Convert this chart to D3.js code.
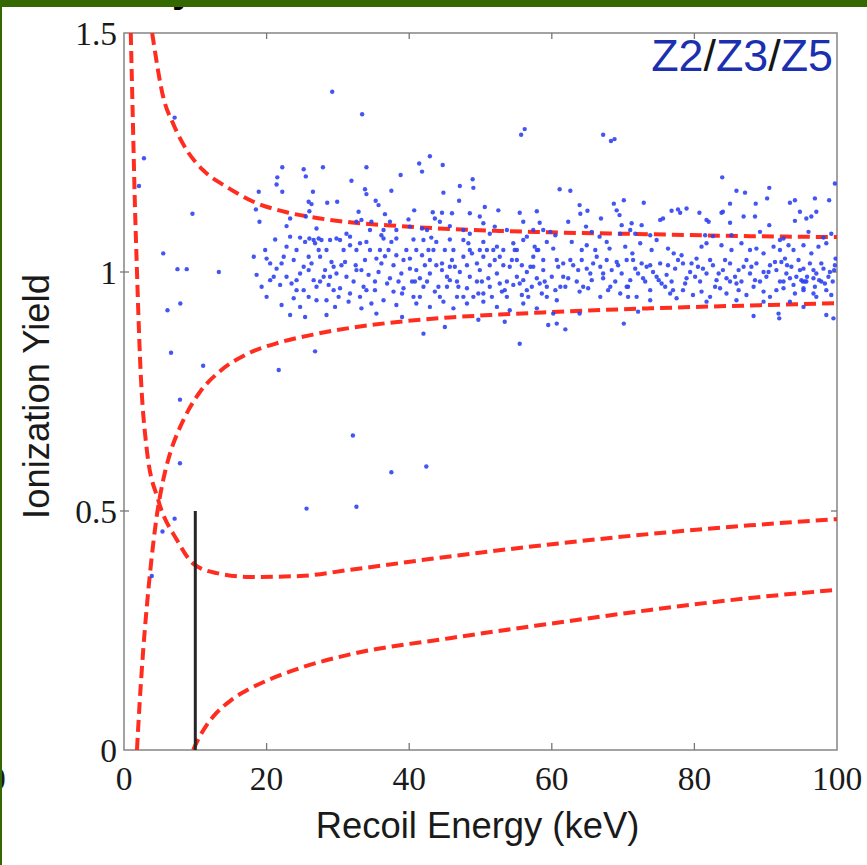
<!DOCTYPE html>
<html>
  <head>
    <meta charset="utf-8">
    <title>Ionization yield vs recoil energy</title>
    <script src="https://d3js.org/d3.v7.min.js"></script>
    <style>
      body { margin: 0; background: #fff; }
      svg { display: block; }
      .num { font-family: "Liberation Serif", "Times New Roman", serif; font-size: 33.5px; fill: #1a1a1a; }
      .label { font-family: "Liberation Sans", Arial, sans-serif; font-size: 36.4px; fill: #1a1a1a; }
      .tag { font-family: "Liberation Sans", Arial, sans-serif; font-size: 44.8px; }
      .band { fill: none; stroke: #ff2d1f; stroke-width: 4; stroke-dasharray: 12 6; }
    </style>
  </head>
  <body>
    <svg id="chart" width="867" height="865"></svg>

    <script>
      // axis ticks
      xTicks = [0, 20, 40, 60, 80, 100];
      yTicks = [0, 0.5, 1, 1.5];
      yTickLabels = ["0", "0.5", "1", "1.5"];

      // dashed curves, [recoil energy keV, ionization yield]
      erUpper = [[3.95, 1.5], [5.5, 1.366], [6.9, 1.31], [8.8, 1.255], [11.1, 1.213], [14.4, 1.178],
        [18, 1.148], [22.8, 1.125], [27.5, 1.112], [31.7, 1.104], [38.7, 1.096], [45.7, 1.09],
        [52.7, 1.086], [59.7, 1.083], [73.8, 1.079], [87.8, 1.075], [100, 1.073]];
      erLower = [[1.82, 0], [2.2, 0.1], [2.7, 0.21], [3.2, 0.3], [3.65, 0.37], [4.6, 0.49],
        [5.5, 0.565], [6.45, 0.62], [7.85, 0.675], [9, 0.71], [10.7, 0.75], [13.5, 0.793],
        [17.2, 0.828], [21.9, 0.853], [26.5, 0.869], [31.7, 0.883], [38.7, 0.896], [45.7, 0.905],
        [52.7, 0.911], [59.7, 0.916], [73.8, 0.924], [87.8, 0.93], [100, 0.935]];
      nrUpper = [[0.95, 1.5], [1.27, 1.3], [1.5, 1.157], [1.78, 1.02], [2.24, 0.822], [3.2, 0.628],
        [4.8, 0.523], [7.4, 0.44], [9.7, 0.39], [13, 0.37], [17.7, 0.362], [24.7, 0.364],
        [31.7, 0.377], [45.7, 0.405], [59.7, 0.43], [73.8, 0.452], [87.8, 0.47], [100, 0.483]];
      nrLower = [[9.7, 0], [10.5, 0.025], [11.5, 0.05], [13, 0.078], [15, 0.104], [17.5, 0.127],
        [20, 0.145], [25, 0.173], [31.7, 0.2], [45.7, 0.234], [59.7, 0.264], [73.8, 0.293],
        [87.8, 0.318], [100, 0.335]];

      // analysis threshold
      threshold = [[10, 0], [10, 0.5]];

      // events, [recoil energy keV, ionization yield]
      events = [
        [2.8, 1.238], [2.1, 1.18], [7.1, 1.323], [9.6, 1.122], [5.5, 1.039], [7.5, 1.006], [8.8, 1.006],
        [13.3, 1.0], [6.1, 0.92], [7.9, 0.934], [6.6, 0.831], [11.1, 0.804], [21.7, 0.795], [26.8, 0.834],
        [7.85, 0.733], [32.1, 0.658], [37.5, 0.581], [42.4, 0.593], [7.85, 0.6], [25.6, 0.505],
        [32.6, 0.509], [7.1, 0.484], [5.4, 0.457], [3.9, 0.364],
        [29.2, 1.377], [33.4, 1.33], [55.7, 1.287], [56.2, 1.299], [67.2, 1.287], [68.3, 1.274], [68.8, 1.278],
        [42.9, 1.242], [41.4, 1.227], [44.7, 1.224], [41.8, 1.21], [22.2, 1.219], [25.2, 1.215], [27.9, 1.219],
        [34.0, 1.219], [38.8, 1.203], [21.5, 1.198], [25.5, 1.2], [31.9, 1.191], [48.9, 1.194], [49.0, 1.176],
        [47.1, 1.18], [21.4, 1.183], [18.9, 1.168], [22.2, 1.168], [26.5, 1.168], [33.8, 1.173], [34.0, 1.163],
        [37.5, 1.17], [44.8, 1.166], [25.9, 1.147], [26.3, 1.142], [28.5, 1.145], [29.9, 1.147], [35.3, 1.149],
        [35.7, 1.14], [47.0, 1.149], [50.6, 1.136], [52.5, 1.129], [55.5, 1.124], [57.9, 1.127], [18.5, 1.131],
        [26.0, 1.127], [32.9, 1.126], [36.6, 1.121], [40.7, 1.129], [43.3, 1.125], [44.6, 1.124], [46.0, 1.123],
        [48.5, 1.123], [49.9, 1.116], [19.0, 1.105], [23.3, 1.112], [25.5, 1.116], [32.6, 1.105], [33.3, 1.109],
        [34.7, 1.105], [37.3, 1.105], [39.9, 1.11], [43.6, 1.112], [44.3, 1.105], [45.7, 1.096], [50.4, 1.102],
        [52.0, 1.095], [53.7, 1.088], [56.0, 1.105], [58.3, 1.103], [58.8, 1.088], [47.6, 1.088], [22.8, 1.096],
        [27.0, 1.091], [36.4, 1.088], [41.8, 1.091], [40.1, 1.095],
        [21.2, 1.068], [24.7, 1.072], [26.0, 1.07], [26.6, 1.067], [27.3, 1.07], [27.7, 1.067], [29.8, 1.07],
        [30.3, 1.067], [31.7, 1.056], [34.0, 1.063], [36.1, 1.077], [36.4, 1.07], [38.2, 1.07], [40.6, 1.068],
        [42.0, 1.067], [43.1, 1.072], [43.8, 1.063], [45.7, 1.068], [47.6, 1.067], [48.3, 1.06], [50.4, 1.063],
        [52.3, 1.053], [54.6, 1.06], [56.0, 1.067], [57.6, 1.053], [59.3, 1.063], [19.8, 1.046], [22.8, 1.053],
        [28.4, 1.046],
        [18.2, 1.032], [20.0, 1.028], [22.4, 1.032], [23.8, 1.025], [25.9, 1.032], [26.3, 1.018], [27.5, 1.032],
        [29.1, 1.021], [31.0, 1.021], [32.5, 1.014], [33.8, 1.025], [35.4, 1.028], [36.6, 1.033], [38.2, 1.035],
        [40.1, 1.028], [41.8, 1.035], [42.9, 1.025], [44.6, 1.018], [46.0, 1.025], [47.6, 1.032], [49.5, 1.018],
        [50.4, 1.032], [52.0, 1.025], [53.2, 1.014], [55.1, 1.025], [55.8, 1.014], [57.4, 1.032], [58.8, 1.025],
        [18.6, 0.994], [21.4, 1.007], [22.8, 0.99], [24.7, 0.997], [25.9, 1.004], [26.6, 0.983], [28.2, 1.004],
        [29.8, 0.997], [31.2, 0.99], [32.6, 1.004], [34.3, 0.994], [35.7, 1.0], [37.3, 0.987], [38.9, 0.997],
        [40.1, 1.007], [41.5, 0.987], [42.9, 0.997], [44.6, 1.004], [45.7, 0.983], [47.1, 1.0], [48.5, 0.99],
        [49.9, 1.004], [51.1, 0.987], [52.3, 0.997], [53.7, 0.98], [55.1, 0.99], [56.5, 1.0], [57.9, 0.987],
        [58.8, 1.004],
        [19.3, 0.969], [21.9, 0.973], [23.5, 0.976], [25.2, 0.962], [27.0, 0.969], [28.7, 0.973], [30.3, 0.966],
        [31.7, 0.955], [33.6, 0.969], [35.2, 0.962], [36.9, 0.976], [37.8, 0.959], [39.2, 0.966], [40.6, 0.948],
        [42.0, 0.969], [43.6, 0.959], [45.3, 0.969], [46.7, 0.948], [48.1, 0.966], [49.7, 0.955], [51.3, 0.969],
        [53.0, 0.959], [54.6, 0.973], [55.8, 0.952], [57.2, 0.969], [58.6, 0.955],
        [22.1, 0.931], [24.7, 0.927], [28.4, 0.941], [29.6, 0.927], [31.5, 0.938], [33.3, 0.924], [34.7, 0.934],
        [35.4, 0.913], [38.2, 0.931], [41.0, 0.934], [42.9, 0.927], [44.8, 0.938], [46.2, 0.924], [48.1, 0.934],
        [50.4, 0.938], [52.3, 0.927], [54.1, 0.92], [56.0, 0.934], [57.9, 0.924],
        [23.3, 0.91], [25.4, 0.906], [28.4, 0.91], [39.0, 0.906], [42.0, 0.871], [45.0, 0.885], [49.7, 0.9],
        [53.4, 0.896], [55.5, 0.85], [59.5, 0.889],
        [20.5, 1.018], [24.2, 1.046], [25.2, 1.011], [28.0, 0.99], [29.4, 0.962], [30.8, 1.046], [32.2, 0.98],
        [33.1, 0.948], [34.5, 1.046], [36.1, 1.018], [37.1, 1.046], [38.5, 0.98], [39.6, 1.046], [40.8, 0.98],
        [42.2, 1.014], [43.4, 1.046], [44.1, 0.969], [45.0, 1.046], [46.4, 1.011], [46.9, 0.969], [48.8, 1.039],
        [49.0, 0.948], [50.2, 0.98], [50.9, 1.046], [51.6, 0.948], [52.7, 1.032], [53.4, 0.962], [54.1, 1.011],
        [54.8, 1.046], [55.5, 0.976], [56.7, 0.948], [57.0, 1.011], [58.1, 1.046], [58.3, 0.976], [59.3, 0.948],
        [20.0, 0.948], [21.0, 0.99], [23.8, 0.945], [24.2, 0.983], [27.0, 0.941], [27.3, 1.046], [28.9, 0.99],
        [30.5, 1.014], [31.7, 1.074], [33.1, 1.06], [34.5, 1.088], [38.2, 1.088], [41.0, 1.046], [42.5, 1.088],
        [46.2, 1.046], [48.5, 1.08], [49.9, 1.046], [51.3, 1.08], [53.2, 1.046], [56.5, 1.074], [57.4, 1.088],
        [25.4, 1.063], [26.8, 1.06], [28.9, 1.067], [32.6, 1.046], [35.9, 1.046], [37.8, 1.014], [39.2, 1.025],
        [41.0, 1.004], [42.5, 0.98], [43.8, 1.014], [45.3, 0.99], [46.7, 0.98], [48.1, 1.014], [49.5, 0.98],
        [51.3, 1.014], [52.7, 0.976], [54.4, 1.025], [56.0, 0.983], [57.4, 1.011], [59.0, 0.98], [20.5, 0.983],
        [22.1, 1.018], [23.3, 1.074], [24.2, 0.962], [25.9, 0.948], [27.5, 0.98], [29.4, 1.011], [30.1, 0.948],
        [31.2, 1.08], [33.3, 1.004], [34.0, 0.962], [35.2, 0.98], [36.4, 0.941], [37.5, 1.063], [39.0, 0.955],
        [40.4, 0.98], [41.5, 0.948], [42.7, 1.046], [44.3, 0.948], [45.7, 1.011], [47.6, 0.948], [48.5, 1.046],
        [50.4, 0.955], [51.8, 1.046], [53.7, 0.948], [55.1, 1.046], [56.5, 0.962], [57.9, 1.046], [59.3, 0.969],
        [83.9, 1.198], [61.1, 1.173], [62.6, 1.17], [90.5, 1.176], [99.7, 1.185], [85.9, 1.17], [87.1, 1.166],
        [85.0, 1.143], [88.6, 1.143], [90.2, 1.154], [93.4, 1.145], [94.1, 1.15], [96.9, 1.154], [98.9, 1.15],
        [63.9, 1.14], [65.0, 1.128], [64.0, 1.122], [68.7, 1.143], [70.1, 1.15], [69.1, 1.129], [69.5, 1.119],
        [72.9, 1.145], [76.8, 1.128], [77.7, 1.131], [78.0, 1.124], [78.9, 1.133], [80.7, 1.124], [83.8, 1.124],
        [84.0, 1.126], [86.9, 1.116], [88.5, 1.116], [94.8, 1.126], [97.1, 1.126], [66.9, 1.112], [75.2, 1.109],
        [75.6, 1.112], [82.0, 1.105], [81.7, 1.109], [85.0, 1.103], [90.5, 1.098], [94.1, 1.107], [95.7, 1.112],
        [96.4, 1.116], [62.3, 1.105], [64.8, 1.095], [69.8, 1.098], [71.2, 1.102], [72.6, 1.098], [71.0, 1.088],
        [59.8, 1.084], [60.5, 1.077], [65.6, 1.084], [66.7, 1.074], [69.6, 1.08], [71.7, 1.08], [73.8, 1.077],
        [81.5, 1.077], [82.6, 1.075], [85.2, 1.077], [89.2, 1.084], [92.5, 1.07], [92.0, 1.067], [96.0, 1.084],
        [98.1, 1.072], [99.2, 1.08],
        [60.2, 1.049], [62.8, 1.063], [64.2, 1.046], [64.9, 1.056], [66.1, 1.046], [67.7, 1.063], [68.1, 1.049],
        [70.3, 1.053], [71.3, 1.039], [72.4, 1.06], [74.7, 1.067], [74.0, 1.046], [76.3, 1.049], [77.1, 1.039],
        [78.2, 1.035], [80.3, 1.028], [81.0, 1.053], [81.7, 1.06], [83.8, 1.056], [85.2, 1.046], [86.6, 1.06],
        [87.8, 1.046], [88.7, 1.049], [89.7, 1.039], [91.1, 1.053], [92.0, 1.046], [93.2, 1.056], [93.9, 1.046],
        [95.3, 1.056], [96.4, 1.039], [97.4, 1.053], [98.5, 1.06], [99.8, 1.028],
        [60.7, 1.025], [61.6, 1.018], [63.0, 1.014], [64.2, 1.025], [64.9, 1.007], [65.8, 1.018], [66.8, 1.011],
        [67.7, 1.025], [68.4, 1.004], [69.3, 1.014], [70.5, 1.025], [71.7, 1.007], [72.6, 1.018], [73.3, 1.011],
        [74.2, 1.0], [75.2, 1.018], [76.1, 0.994], [77.3, 1.007], [78.4, 1.018], [79.4, 1.0], [80.5, 1.011],
        [81.7, 0.997], [82.6, 1.014], [84.0, 1.004], [85.0, 1.018], [85.7, 0.99], [86.9, 1.011], [87.8, 0.997],
        [88.7, 1.018], [89.7, 1.0], [90.6, 1.014], [91.5, 1.004], [92.2, 1.021], [92.9, 0.997], [93.6, 1.011],
        [94.3, 0.99], [95.3, 1.007], [96.2, 1.018], [97.1, 0.997], [98.1, 1.007], [99.0, 1.0], [99.7, 1.014],
        [60.0, 0.99], [62.3, 0.987], [63.5, 0.98], [65.6, 0.983], [67.2, 0.987], [68.9, 0.98], [71.0, 0.983],
        [72.8, 0.987], [75.0, 0.983], [76.8, 0.98], [78.9, 0.987], [80.8, 0.98], [83.1, 0.983], [84.5, 0.987],
        [86.6, 0.98], [88.5, 0.983], [90.1, 0.99], [92.0, 0.98], [93.4, 0.987], [95.0, 0.983], [95.7, 0.98],
        [96.7, 0.987], [97.8, 0.98],
        [60.5, 0.962], [61.9, 0.969], [63.9, 0.959], [65.1, 0.966], [66.8, 0.948], [67.9, 0.962], [69.6, 0.955],
        [70.7, 0.969], [71.9, 0.948], [73.8, 0.962], [75.9, 0.969], [76.6, 0.955], [78.4, 0.962], [79.8, 0.952],
        [81.0, 0.959], [82.2, 0.948], [83.6, 0.966], [84.5, 0.955], [86.2, 0.962], [87.3, 0.952], [88.3, 0.969],
        [89.7, 0.959], [90.6, 0.948], [92.5, 0.966], [94.1, 0.955], [95.3, 0.962], [95.5, 0.98], [97.1, 0.948],
        [98.5, 0.962], [99.2, 0.952], [60.7, 0.941], [70.7, 0.948], [73.8, 0.941], [77.5, 0.945], [81.7, 0.938],
        [85.9, 0.941], [93.4, 0.938],
        [60.2, 0.913], [63.9, 0.913], [72.1, 0.917], [89.7, 0.938], [88.3, 0.908], [91.8, 0.913], [91.9, 0.903],
        [98.5, 0.91], [99.5, 0.903], [60.7, 0.892], [61.9, 0.88], [70.1, 0.892], [95.3, 0.927],
        [92.7, 1.028], [93.0, 1.014], [94.6, 1.025], [94.8, 1.004], [95.2, 0.98], [95.8, 0.99], [96.7, 1.004],
        [96.9, 0.969], [97.5, 0.983], [97.8, 1.018], [98.3, 0.976], [98.8, 0.99], [99.4, 0.98], [99.6, 1.004],
        [96.7, 0.955], [95.3, 0.966], [93.9, 0.973], [92.5, 0.98], [91.5, 0.962], [91.3, 1.021], [90.4, 1.0],
        [89.2, 0.98], [88.0, 1.011], [87.3, 1.025], [86.2, 1.004], [85.9, 0.976], [85.0, 0.98], [84.3, 1.025],
        [83.4, 0.997], [82.9, 0.969], [82.2, 1.025], [81.2, 1.007], [80.1, 0.99], [79.6, 1.018], [78.7, 0.976],
        [77.7, 1.025], [77.0, 0.962], [76.3, 1.014], [75.4, 0.976], [74.7, 0.99], [73.8, 1.014], [73.1, 0.98],
        [72.1, 0.997], [71.4, 1.025], [70.5, 0.969], [69.8, 0.997], [69.1, 1.021], [68.2, 0.969], [67.2, 0.997],
        [66.3, 1.032], [65.4, 0.997], [64.4, 0.969], [63.7, 1.004], [62.6, 1.025], [61.6, 0.99], [60.9, 1.011],
        [61.2, 0.969]
      ];

      // page elements
      svg = d3.select("#chart");
      x = d3.scaleLinear().domain([0, 100]).range([124, 837]);
      y = d3.scaleLinear().domain([0, 1.5]).range([750, 33]);

      // white page with the slide's green edges
      svg.append("rect").attr("width", 867).attr("height", 865).attr("fill", "#fff");
      svg.append("text")
        .attr("x", 172).attr("y", 2)
        .style("font", "bold 40px 'Liberation Sans', sans-serif")
        .text("y");
      svg.append("text")
        .attr("class", "num")
        .attr("x", -11).attr("y", 790)
        .text("0");
      svg.append("rect").attr("width", 867).attr("height", 7).attr("fill", "#346800");
      svg.append("rect").attr("width", 2).attr("height", 865).attr("fill", "#346800");

      svg.append("clipPath")
        .attr("id", "plotClip")
        .append("rect")
        .attr("x", x(0)).attr("y", y(1.5))
        .attr("width", x(100) - x(0)).attr("height", y(0) - y(1.5));

      // frame
      svg.append("rect")
        .attr("x", x(0)).attr("y", y(1.5))
        .attr("width", x(100) - x(0)).attr("height", y(0) - y(1.5))
        .attr("fill", "none")
        .attr("stroke", "#8c8c8c")
        .attr("stroke-width", 1.6);

      // ticks
      ticks = svg.append("g").attr("stroke", "#777").attr("stroke-width", 1.3);
      ticks.selectAll(".xb")
        .data(xTicks.slice(1, -1))
        .enter().append("line")
        .attr("x1", d => x(d)).attr("x2", d => x(d))
        .attr("y1", y(0)).attr("y2", y(0) - 7);
      ticks.selectAll(".xt")
        .data(xTicks.slice(1, -1))
        .enter().append("line")
        .attr("x1", d => x(d)).attr("x2", d => x(d))
        .attr("y1", y(1.5)).attr("y2", y(1.5) + 6);
      ticks.selectAll(".yl")
        .data(yTicks.slice(1, -1))
        .enter().append("line")
        .attr("x1", x(0) - 4).attr("x2", x(0) + 5)
        .attr("y1", d => y(d)).attr("y2", d => y(d));
      ticks.selectAll(".yr")
        .data(yTicks.slice(1, -1))
        .enter().append("line")
        .attr("x1", x(100)).attr("x2", x(100) - 6)
        .attr("y1", d => y(d)).attr("y2", d => y(d));

      // tick labels
      svg.selectAll(".xlab")
        .data(xTicks)
        .enter().append("text")
        .attr("class", "num")
        .attr("x", d => x(d))
        .attr("y", y(0) + 40)
        .attr("text-anchor", "middle")
        .text(d => d);
      svg.selectAll(".ylab")
        .data(yTicks)
        .enter().append("text")
        .attr("class", "num")
        .attr("x", x(0) - 7)
        .attr("y", d => y(d) + 12)
        .attr("text-anchor", "end")
        .text((d, i) => yTickLabels[i]);

      // axis titles
      svg.append("text")
        .attr("class", "label")
        .attr("x", (x(0) + x(100)) / 2 - 3)
        .attr("y", 838)
        .attr("text-anchor", "middle")
        .text("Recoil Energy (keV)");
      svg.append("text")
        .attr("class", "label")
        .attr("transform", "translate(49," + ((y(0) + y(1.5)) / 2 + 5) + ") rotate(-90)")
        .attr("text-anchor", "middle")
        .text("Ionization Yield");

      // detector tag
      tag = svg.append("text")
        .attr("class", "tag")
        .attr("x", 833).attr("y", 71)
        .attr("text-anchor", "end");
      ["Z2", "/", "Z3", "/", "Z5"].forEach(function(s) {
        tag.append("tspan")
          .attr("fill", s == "/" ? "#151515" : "#1a30b0")
          .text(s);
      });

      // curves
      line = d3.line()
        .x(d => x(d[0]))
        .y(d => y(d[1]))
        .curve(d3.curveMonotoneX);
      plot = svg.append("g").attr("clip-path", "url(#plotClip)");
      plot.selectAll(".band")
        .data([erUpper, erLower, nrUpper, nrLower])
        .enter().append("path")
        .attr("class", "band")
        .attr("d", line);
      plot.append("path")
        .datum(threshold)
        .attr("d", d3.line().x(d => x(d[0])).y(d => y(d[1])))
        .attr("stroke", "#262626")
        .attr("stroke-width", 3);

      // events
      plot.selectAll(".event")
        .data(events)
        .enter().append("circle")
        .attr("class", "event")
        .attr("cx", d => x(d[0]))
        .attr("cy", d => y(d[1]))
        .attr("r", 2.2)
        .attr("fill", "#2f44f2")
        .attr("fill-opacity", 0.9);
    </script>
  </body>
</html>
